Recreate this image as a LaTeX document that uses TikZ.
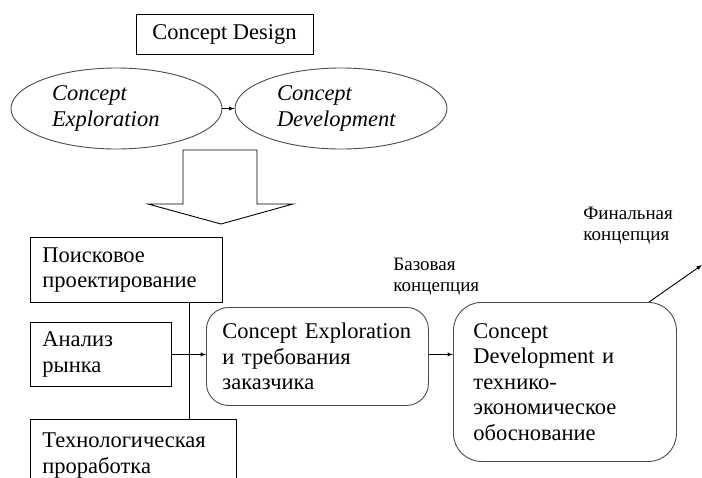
\documentclass[tikz,border=0pt]{standalone}
\usepackage{fontspec}
\setmainfont{Liberation Serif}
\usetikzlibrary{arrows}
\usetikzlibrary{shapes.geometric}
\usetikzlibrary{positioning}

\begin{document}
\begin{tikzpicture}[x=1pt, y=-1pt, line width=0.9pt,
	box/.style={draw, rectangle, anchor=north west, align=left, inner xsep=12pt,
		font=\fontsize{22.5}{25.5}\selectfont},
	stage/.style={draw=black!70, rounded corners=22pt, anchor=north west, align=left,
		font=\fontsize{22.5}{25.5}\selectfont},
	oval/.style={draw=black!70, ellipse, align=left,
		font=\fontsize{22.5}{25.5}\selectfont\itshape},
	note/.style={anchor=north west, align=left, inner sep=0pt,
		font=\fontsize{19}{20.5}\selectfont}]
			\clip (0,0) rectangle (702,477);
			\node[draw, rectangle, minimum width=177pt, minimum height=40pt, font=\fontsize{22.5}{25.5}\selectfont] (CD) at (224.5,34) {Concept Design};
			\node[oval, minimum width=211pt, minimum height=81pt, text width=129pt] (CE) at (116.5,108.5) {Concept\\Exploration};
			\node[oval, minimum width=212pt, minimum height=81pt, text width=128pt] (CDev) at (341,108.5) {Concept\\Development};
			\draw [-latex] (CE) -- (CDev);
			% block arrow
			\draw (183,150) -- (257,150) -- (257,204) -- (293,204) -- (221,224) -- (148,204) -- (183,204) -- cycle;
			\node[box, minimum width=192pt, minimum height=65pt, text width=168pt] (Poisk) at (30,237) {Поисковое\\проектирование};
			\node[box, minimum width=141pt, minimum height=64pt, text width=117pt] (Rynok) at (30,322) {Анализ\\рынка};
			\node[box, minimum width=206pt, minimum height=72pt, text width=182pt] (Tech) at (30,419) {Технологическая\\проработка};
			\draw (Poisk.south -| 189,0) -- (Tech.north -| 189,0);
			\node[stage, minimum width=222pt, minimum height=98pt, inner xsep=16pt, text width=190pt] (Expl) at (206,307) {Concept Exploration\\и требования\\заказчика};
			\draw [-latex] (Rynok.east) -- (Rynok.east -| Expl.west);
			\node[stage, minimum width=223pt, minimum height=159pt, inner xsep=20pt, text width=183pt, rounded corners=28pt] (Dev) at (453,302) {Concept\\Development и\\технико-\\экономическое\\обоснование};
			\draw [-latex] (Expl.east |- Rynok.east) -- (Dev.west |- Rynok.east);
			\node[note] (Base) at (393,258) {Базовая\\концепция};
			\node[note] (Final) at (583,207) {Финальная\\концепция};
			\coordinate (Out) at (702,265);
			\draw [-latex] (649,302) -- (Out);
\end{tikzpicture}
\end{document}
